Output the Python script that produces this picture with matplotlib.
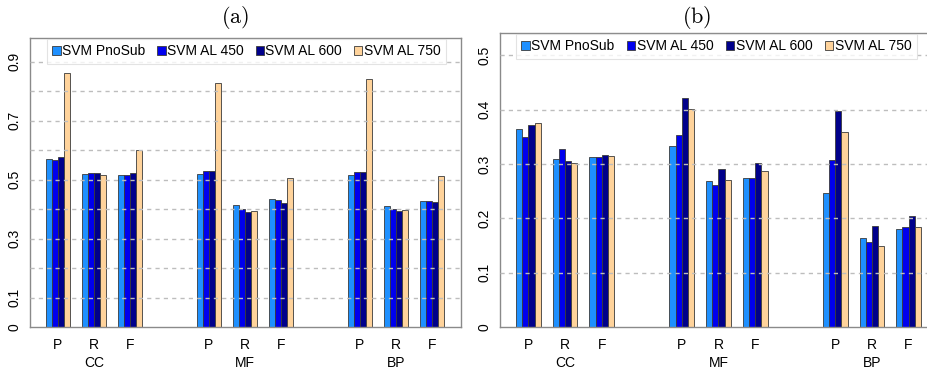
#!/usr/bin/env python
## bar charts (a) and (b): P/R/F of the SVM variants on CC, MF and BP
import matplotlib
matplotlib.use("Agg")
import matplotlib.pyplot as plt
import matplotlib.transforms as mtrans

plt.rcParams['font.family'] = ['Liberation Sans', 'DejaVu Sans']
plt.rcParams['mathtext.fontset'] = 'cm'

groups = ["CC", "MF", "BP"]
metrics = ["P", "R", "F"]
series = ["SVM PnoSub", "SVM AL 450", "SVM AL 600", "SVM AL 750"]
colors = ["#1E90FF", "#0000EE", "#00008B", "#FFD39B"]

# values in order CC P,R,F / MF P,R,F / BP P,R,F
a_pnosub = [0.571, 0.521, 0.517, 0.520, 0.413, 0.434, 0.517, 0.411, 0.428]
a_al450  = [0.566, 0.524, 0.517, 0.530, 0.401, 0.431, 0.525, 0.400, 0.427]
a_al600  = [0.576, 0.522, 0.522, 0.528, 0.390, 0.420, 0.525, 0.395, 0.425]
a_al750  = [0.862, 0.516, 0.600, 0.829, 0.394, 0.506, 0.843, 0.396, 0.512]

b_pnosub = [0.365, 0.309, 0.313, 0.333, 0.268, 0.274, 0.247, 0.164, 0.180]
b_al450  = [0.349, 0.328, 0.313, 0.354, 0.261, 0.274, 0.308, 0.156, 0.184]
b_al600  = [0.371, 0.306, 0.317, 0.421, 0.290, 0.301, 0.398, 0.186, 0.204]
b_al750  = [0.376, 0.301, 0.314, 0.401, 0.270, 0.288, 0.358, 0.149, 0.184]

a_ticks = [0, 0.1, 0.2, 0.3, 0.4, 0.5, 0.6, 0.7, 0.8, 0.9]
a_ticklabels = ["0", "0.1", "", "0.3", "", "0.5", "", "0.7", "", "0.9"]
b_ticks = [0, 0.1, 0.2, 0.3, 0.4, 0.5]
b_ticklabels = ["0", "0.1", "0.2", "0.3", "0.4", "0.5"]

W, H = 927, 372
fig = plt.figure(figsize=(W / 100, H / 100), dpi=100)

# cluster layout in bar-width units
offset, mstep, gstep = 2.57, 5.92, 24.75
starts = [offset + g * gstep + m * mstep for g in range(3) for m in range(3)]
fs = 10


def panel(ax, data, ymax, ticks, ticklabels, leg_box):
    for i, vals in enumerate(data):
        xs = [s + i + 0.5 for s in starts]
        ax.bar(xs, vals, width=1.0, color=colors[i], edgecolor="#3a3a3a",
               linewidth=0.6, label=series[i], zorder=2)
    for t in ticks[1:]:
        ax.axhline(t, color="#BDBDBD", lw=1.0, ls=(0, (3, 3)), zorder=3)
    ax.set_xlim(0, 70.6)
    ax.set_ylim(0, ymax)
    ax.set_yticks(ticks, ticklabels)
    ax.tick_params(axis="y", length=0, pad=6, labelsize=fs, labelrotation=90)
    for lab in ax.get_yticklabels():
        lab.set_verticalalignment("center")
    centers = [s + 2 for s in starts]
    ax.set_xticks(centers, metrics * 3)
    ax.tick_params(axis="x", length=0, pad=8, labelsize=fs)
    tr = mtrans.blended_transform_factory(ax.transData, ax.transAxes)
    for g, name in enumerate(groups):
        ax.text(centers[g * 3 + 1], -0.123, name, transform=tr, ha="center",
                va="center", fontsize=fs)
    for sp in ax.spines.values():
        sp.set_color("#8a8a8a")
        sp.set_linewidth(1.0)
    leg = ax.legend(loc="upper left", bbox_to_anchor=leg_box, mode="expand",
                    ncol=4, fontsize=fs, frameon=True, fancybox=False,
                    handlelength=0.6, handleheight=0.6, handletextpad=0.1,
                    borderpad=0.4, borderaxespad=0, columnspacing=1.0)
    leg.get_frame().set_edgecolor("#DDDDDD")
    leg.get_frame().set_linewidth(0.8)
    leg.set_zorder(5)


ax1 = fig.add_axes([30 / W, (H - 327) / H, 430.7 / W, (327 - 38.3) / H])
panel(ax1, [a_pnosub, a_al450, a_al600, a_al750], 0.98, a_ticks, a_ticklabels,
      (0.039, 0.0, 0.927, 0.998))

ax2 = fig.add_axes([500 / W, (H - 327.3) / H, 437.7 / W, (327.3 - 33.3) / H])
panel(ax2, [b_pnosub, b_al450, b_al600, b_al750], 0.54, b_ticks, b_ticklabels,
      (0.036, 0.0, 0.917, 0.998))

fig.text(0.2535, 0.952, r"$\mathrm{(a)}$", ha="center", va="center", fontsize=16)
fig.text(0.752, 0.952, r"$\mathrm{(b)}$", ha="center", va="center", fontsize=16)

fig.savefig("out.png", dpi=100)
